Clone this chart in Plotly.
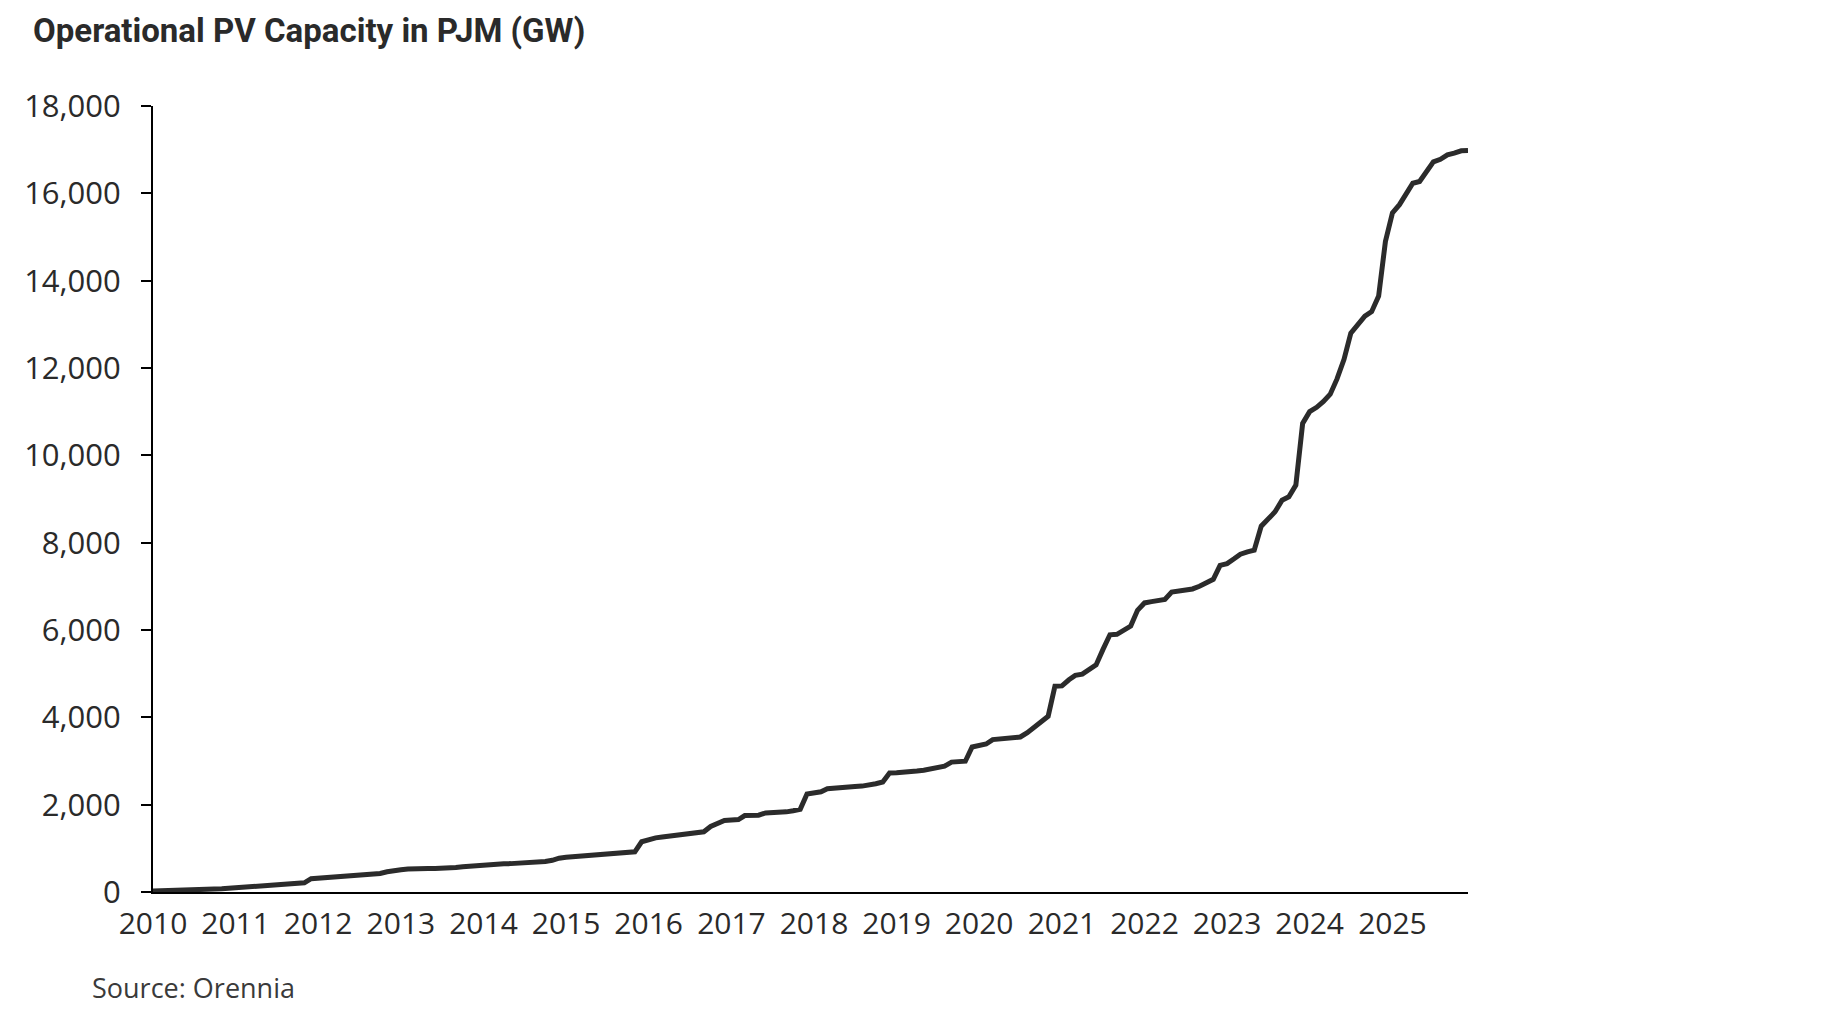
import pandas as pd
import plotly.graph_objects as go

# Monthly operational PV capacity in PJM, Jan 2010 - Dec 2025
cap_2010 = [25, 28, 30, 32, 35, 38, 40, 45, 52, 62, 72, 85]
cap_2011 = [97, 108, 120, 131, 143, 154, 166, 177, 189, 200, 210, 305]
cap_2012 = [315, 325, 335, 345, 355, 368, 380, 395, 410, 425, 465, 497]
cap_2013 = [510, 525, 535, 535, 537, 538, 540, 545, 560, 580, 595, 610]
cap_2014 = [627, 635, 640, 645, 650, 655, 662, 670, 680, 700, 726, 775]
cap_2015 = [795, 805, 815, 825, 835, 845, 855, 868, 880, 895, 920, 1150]
cap_2016 = [1200, 1240, 1260, 1280, 1300, 1320, 1340, 1360, 1380, 1500, 1560, 1640]
cap_2017 = [1650, 1660, 1750, 1757, 1760, 1810, 1815, 1822, 1835, 1860, 1895, 2245]
cap_2018 = [2270, 2295, 2365, 2385, 2395, 2405, 2415, 2425, 2440, 2480, 2520, 2726]
cap_2019 = [2730, 2735, 2750, 2770, 2790, 2820, 2850, 2880, 2975, 2985, 2995, 3320]
cap_2020 = [3350, 3390, 3490, 3505, 3520, 3535, 3550, 3650, 3780, 3900, 4025, 4713]
cap_2021 = [4720, 4860, 4960, 4990, 5080, 5200, 5550, 5890, 5900, 5990, 6090, 6450]
cap_2022 = [6620, 6650, 6670, 6700, 6870, 6900, 6920, 6940, 7000, 7080, 7160, 7480]
cap_2023 = [7520, 7630, 7736, 7790, 7828, 8378, 8540, 8706, 8974, 9050, 9317, 10731]
cap_2024 = [11000, 11100, 11230, 11400, 11750, 12200, 12800, 12980, 13190, 13290, 13650, 14900]
cap_2025 = [15550, 15740, 15980, 16230, 16270, 16500, 16720, 16780, 16880, 16920, 16975, 16980]

capacity = (cap_2010 + cap_2011 + cap_2012 + cap_2013 + cap_2014 + cap_2015 + cap_2016
            + cap_2017 + cap_2018 + cap_2019 + cap_2020 + cap_2021 + cap_2022 + cap_2023
            + cap_2024 + cap_2025)
months = pd.date_range("2010-01-01", periods=len(capacity), freq="MS")

title_text = "Operational PV Capacity in PJM (GW)"
source_text = "Source: Orennia"

L, T, PW, PH = 145, 98, 1315, 786
W, H = 1828, 1027

fig = go.Figure()
fig.add_trace(go.Scatter(
    x=months, y=capacity, mode="lines",
    line=dict(color="#2b2b2b", width=5),
    hoverinfo="skip", showlegend=False,
))

fig.update_layout(
    width=W, height=H,
    margin=dict(l=L, r=W - L - PW, t=T, b=H - T - PH),
    paper_bgcolor="white", plot_bgcolor="white",
    font=dict(family="Open Sans", color="#2a2a2a"),
    showlegend=False,
)

fig.update_xaxes(
    type="date",
    range=[months[0], months[-1]],
    tickformat="%Y", dtick="M12", tick0="2010-01-01",
    showgrid=False, zeroline=False,
    showline=True, linecolor="#000000", linewidth=2,
    ticks="", ticklabelstandoff=4,
    tickfont=dict(family="Open Sans", size=30, color="#2a2a2a"),
)
fig.update_yaxes(
    range=[0, 18000], dtick=2000, tickformat=",",
    showgrid=False, zeroline=False,
    showline=True, linecolor="#000000", linewidth=2,
    ticks="outside", ticklen=10, tickwidth=2, tickcolor="#000000",
    ticklabelstandoff=14,
    tickfont=dict(family="Open Sans", size=31, color="#2a2a2a"),
)

fig.add_annotation(
    text=f"<b>{title_text}</b>", xref="paper", yref="paper",
    x=(23 - L) / PW, y=1 + (T - 23) / PH, xanchor="left", yanchor="middle",
    showarrow=False, font=dict(family="Roboto", size=33, color="#2a2a2a"),
)
fig.add_annotation(
    text=source_text, xref="paper", yref="paper",
    x=(82 - L) / PW, y=-(979 - (T + PH)) / PH, xanchor="left", yanchor="middle",
    showarrow=False, font=dict(family="Open Sans", size=27, color="#3a3a3a"),
)

fig.write_html("out.html")
